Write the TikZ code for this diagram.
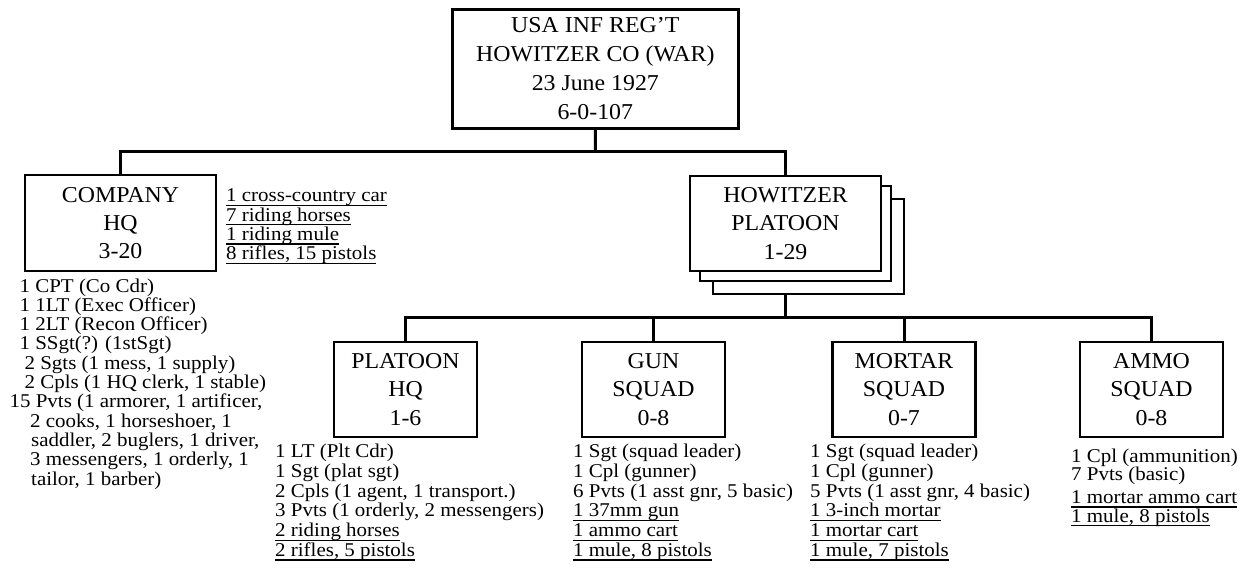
\documentclass[tikz,border=0pt]{standalone}
\usepackage{fontspec}
\setmainfont{Liberation Serif}
\newfontfamily\bodyfam[FakeStretch=1.075]{Liberation Serif}
\newfontfamily\boxfam[FakeStretch=1.05]{Liberation Serif}
\newcommand\bodyfnt{\bodyfam\fontsize{19.5}{19.3}\selectfont}
\newcommand\boxfnt{\boxfam\fontsize{22.7}{28.4}\selectfont}
\newsavebox\ulbox
\newcommand\myul[1]{\sbox\ulbox{#1}\rlap{\rule[-4.2pt]{\wd\ulbox}{1.3pt}}\usebox\ulbox}
\tikzset{
  orgbox/.style={draw, line width=2.4pt, inner sep=0pt, align=center, font=\boxfnt, fill=white},
  conn/.style={line width=3pt},
  txt/.style={font=\bodyfnt, anchor=base west, inner sep=0pt}
}
\begin{document}
\begin{tikzpicture}[x=1pt,y=-1pt]
\useasboundingbox (0,0) rectangle (1249,571);
% boxes
\node[orgbox, minimum width=286pt, minimum height=119pt, font=\boxfam\fontsize{22.7}{29}\selectfont] (top) at (595.3,68.8)
  {USA INF REG’T\\HOWITZER CO (WAR)\\23 June 1927\\6-0-107};
\node[orgbox, minimum width=191pt, minimum height=96pt] (co) at (120.5,223) {COMPANY\\HQ\\3-20};
\node[orgbox, minimum width=191pt, minimum height=95pt] (hp3) at (808.5,246.5) {};
\node[orgbox, minimum width=191pt, minimum height=95pt] (hp2) at (795.5,233.5) {};
\node[orgbox, minimum width=191pt, minimum height=95pt] (hp) at (785.5,223.5) {HOWITZER\\PLATOON\\1-29};
\node[orgbox, minimum width=143pt, minimum height=95pt] (ph) at (405.5,389.5) {PLATOON\\HQ\\1-6};
\node[orgbox, minimum width=143pt, minimum height=95pt] (gun) at (653.5,389.5) {GUN\\SQUAD\\0-8};
\node[orgbox, minimum width=143pt, minimum height=95pt] (mo) at (904,389.5) {MORTAR\\SQUAD\\0-7};
\node[orgbox, minimum width=143pt, minimum height=95pt] (am) at (1151.5,389.5) {AMMO\\SQUAD\\0-8};
% connectors
\coordinate (j1) at (595.5,151.7);
\draw[conn] (top.south) -- (j1);
\draw[conn] (co.north) |- (j1) -| (hp.north);
\coordinate (j2) at (785.5,317.3);
\draw[conn] (hp.south |- hp3.south) -- (j2);
\draw[conn] (ph.north) |- (j2) -| (am.north);
\draw[conn] (gun.north) -- (gun.north |- j2);
\draw[conn] (mo.north) -- (mo.north |- j2);
% company HQ texts
\foreach \t [count=\i] in {{1 cross-country car},{7 riding horses},{1 riding mule},{8 rifles, 15 pistols}}
  \node[txt] (ce\i) at (226,{201.7+19.4*(\i-1)}) {\myul{\t}};
\foreach \dx/\t [count=\i] in {19.4/{1 CPT (Co Cdr)},19.4/{1 1LT (Exec Officer)},19.4/{1 2LT (Recon Officer)},
  19.4/{1 SSgt(?) (1stSgt)},24.4/{2 Sgts (1 mess, 1 supply)},24.4/{2 Cpls (1 HQ clerk, 1 stable)},
  9.4/{15 Pvts (1 armorer, 1 artificer,},30/{2 cooks, 1 horseshoer, 1},31/{saddler, 2 buglers, 1 driver,},
  30/{3 messengers, 1 orderly, 1},31/{tailor, 1 barber)}}
  \node[txt] (cp\i) at (\dx,{292+19.3*(\i-1)}) {\t};
% platoon HQ
\foreach \t [count=\i] in {{1 LT (Plt Cdr)},{1 Sgt (plat sgt)},{2 Cpls (1 agent, 1 transport.)},
  {3 Pvts (1 orderly, 2 messengers)},{\myul{2 riding horses}},{\myul{2 rifles, 5 pistols}}}
  \node[txt] (pt\i) at (275,{457.3+19.85*(\i-1)}) {\t};
% gun squad
\foreach \t [count=\i] in {{1 Sgt (squad leader)},{1 Cpl (gunner)},{6 Pvts (1 asst gnr, 5 basic)},
  {\myul{1 37mm gun}},{\myul{1 ammo cart}},{\myul{1 mule, 8 pistols}}}
  \node[txt] (gt\i) at (573,{457.3+19.85*(\i-1)}) {\t};
% mortar squad
\foreach \t [count=\i] in {{1 Sgt (squad leader)},{1 Cpl (gunner)},{5 Pvts (1 asst gnr, 4 basic)},
  {\myul{1 3-inch mortar}},{\myul{1 mortar cart}},{\myul{1 mule, 7 pistols}}}
  \node[txt] (mt\i) at (810,{457.3+19.85*(\i-1)}) {\t};
% ammo squad
\node[txt] (at1) at (1071,462) {1 Cpl (ammunition)};
\node[txt] (at2) at (1071,480.7) {7 Pvts (basic)};
\node[txt] (at3) at (1071,503.3) {\myul{1 mortar ammo cart}};
\node[txt] (at4) at (1071,522) {\myul{1 mule, 8 pistols}};
\end{tikzpicture}
\end{document}
